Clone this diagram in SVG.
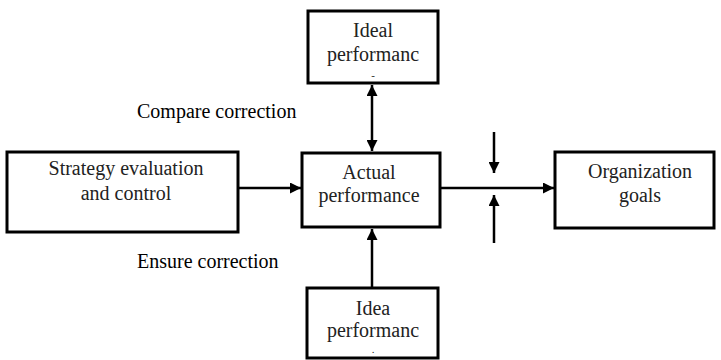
<svg xmlns="http://www.w3.org/2000/svg" width="721" height="360" viewBox="0 0 721 360">
<style>
.box{fill:#fff;stroke:#000;stroke-width:3}
.lbl{font-family:"Liberation Serif","DejaVu Serif",serif;font-size:20px;fill:#222;text-anchor:middle}
.sm{font-size:11px}
.note{font-family:"Liberation Serif","DejaVu Serif",serif;font-size:20px;fill:#000}
.ln{stroke:#000;stroke-width:2.5;fill:none}
</style>
<defs>
<marker id="ah" viewBox="0 0 10 10" refX="10" refY="5" markerWidth="12" markerHeight="11" markerUnits="userSpaceOnUse" orient="auto-start-reverse">
<path d="M0,0 L10,5 L0,10 Z" fill="#000"/>
</marker>
</defs>
<g id="connectors">
<line class="ln" x1="372" y1="85" x2="372" y2="151" marker-start="url(#ah)" marker-end="url(#ah)"/>
<line class="ln" x1="238" y1="188" x2="301" y2="188" marker-end="url(#ah)"/>
<line class="ln" x1="372" y1="288" x2="372" y2="229" marker-end="url(#ah)"/>
<line class="ln" x1="440" y1="188" x2="554" y2="188" marker-end="url(#ah)"/>
<line class="ln" x1="494" y1="132" x2="494" y2="173" marker-end="url(#ah)"/>
<line class="ln" x1="494" y1="243" x2="494" y2="195" marker-end="url(#ah)"/>
</g>
<g id="ideal-top">
<rect class="box" x="308" y="11" width="130" height="72"/>
<text class="lbl" x="373" y="37">Ideal</text>
<text class="lbl" x="373" y="61">performanc</text>
<text class="lbl sm" x="373" y="79">-</text>
</g>
<g id="strategy">
<rect class="box" x="7" y="152" width="231" height="80"/>
<text class="lbl" x="126" y="175">Strategy evaluation</text>
<text class="lbl" x="126" y="200">and control</text>
</g>
<g id="actual">
<rect class="box" x="302" y="153" width="138" height="74"/>
<text class="lbl" x="369" y="179">Actual</text>
<text class="lbl" x="369" y="202">performance</text>
</g>
<g id="org">
<rect class="box" x="555" y="152" width="159" height="76"/>
<text class="lbl" x="640" y="178">Organization</text>
<text class="lbl" x="640" y="202">goals</text>
</g>
<g id="ideal-bottom">
<rect class="box" x="307" y="288" width="131" height="70"/>
<text class="lbl" x="373" y="315">Idea</text>
<text class="lbl" x="373" y="337">performanc</text>
<text class="lbl sm" x="373" y="353">.</text>
</g>
<g id="notes">
<text class="note" x="137" y="118">Compare correction</text>
<text class="note" x="137" y="268">Ensure correction</text>
</g>
</svg>
